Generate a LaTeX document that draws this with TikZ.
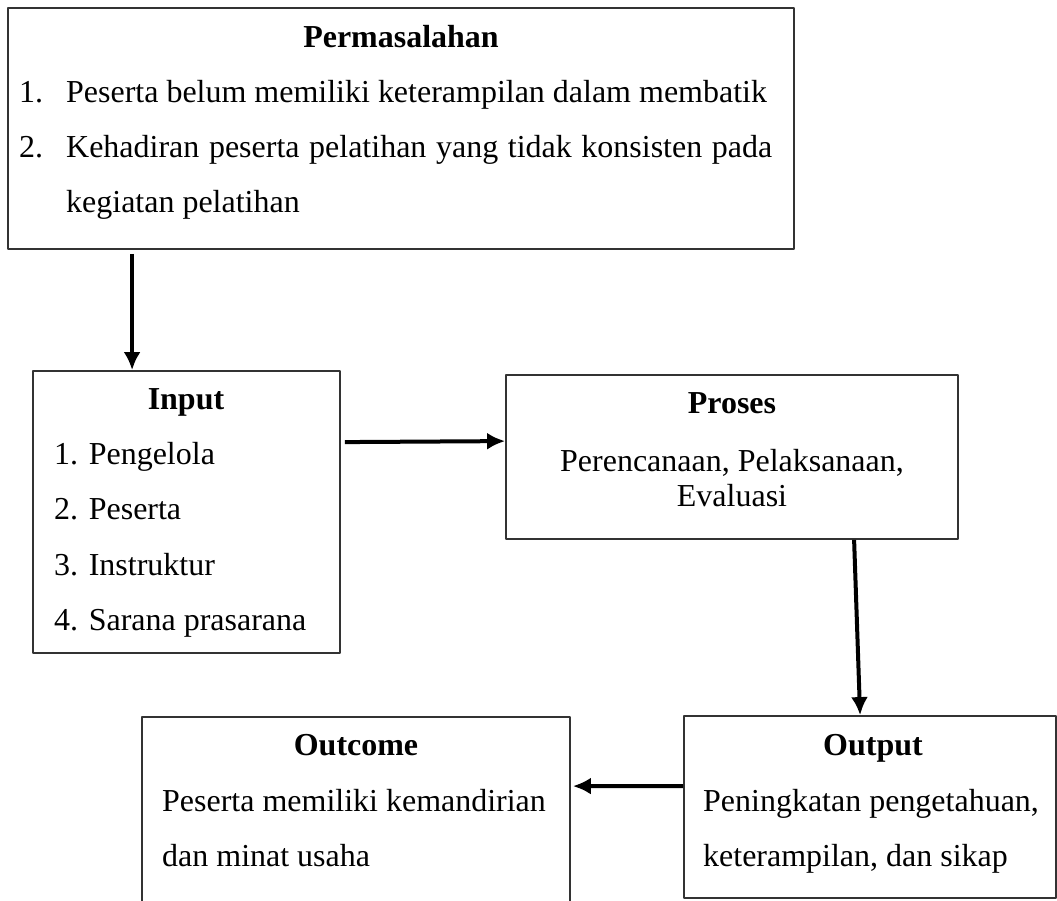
\documentclass[tikz,border=0pt]{standalone}
\usepackage{fontspec}
\setmainfont{Liberation Serif}
\usetikzlibrary{arrows.meta,calc}

\begin{document}
\begin{tikzpicture}[>={Latex[length=18bp,width=17bp]},line join=bevel,
  box/.style={draw=black!80,line width=1.8bp,inner sep=0pt},
  txt/.style={inner sep=0pt,font=\fontsize{32.1}{38}\selectfont},
  ttl/.style={inner sep=0pt,font=\fontsize{32.1}{38}\selectfont\bfseries},
  link/.style={black,line width=4bp,->},
]
\useasboundingbox (0bp,0bp) rectangle (1057bp,901bp);
%%
\node (node_perm) at (401bp,772.5bp) [box,minimum width=786bp,minimum height=241bp] {};
  \node (node_input) at (186.5bp,389bp) [box,minimum width=307bp,minimum height=282bp] {};
  \node (node_proses) at (732bp,444bp) [box,minimum width=452bp,minimum height=164bp] {};
  \node (node_output) at (870bp,94bp) [box,minimum width=372bp,minimum height=182bp] {};
  \node (node_outcome) at (356bp,72bp) [box,minimum width=428bp,minimum height=224bp] {};
%
\node (perm_title) at (401bp,853bp) [ttl,anchor=base] {Permasalahan};
  \node (perm_n1) at (19bp,798bp) [txt,anchor=base west] {1.};
  \node (perm_l1) at (66bp,798bp) [txt,anchor=base west] {Peserta belum memiliki keterampilan dalam membatik};
  \node (perm_n2) at (19bp,743bp) [txt,anchor=base west] {2.};
  \node (perm_l2) at (66bp,743bp) [txt,anchor=base west] {\makebox[706bp][s]{Kehadiran peserta pelatihan yang tidak konsisten pada}};
  \node (perm_l3) at (66bp,688bp) [txt,anchor=base west] {kegiatan pelatihan};
%
\node (input_title) at (186bp,491bp) [ttl,anchor=base] {Input};
  \node (input_l1) at (54bp,436bp) [txt,anchor=base west] {1. Pengelola};
  \node (input_l2) at (54bp,381bp) [txt,anchor=base west] {2. Peserta};
  \node (input_l3) at (54bp,325bp) [txt,anchor=base west] {3. Instruktur};
  \node (input_l4) at (54bp,270bp) [txt,anchor=base west] {4. Sarana prasarana};
%
\node (proses_title) at (732bp,487bp) [ttl,anchor=base] {Proses};
  \node (proses_l1) at (732bp,429bp) [txt,anchor=base] {Perencanaan, Pelaksanaan,};
  \node (proses_l2) at (732bp,394bp) [txt,anchor=base] {Evaluasi};
%
\node (output_title) at (873bp,145bp) [ttl,anchor=base] {Output};
  \node (output_l1) at (703bp,89bp) [txt,anchor=base west] {Peningkatan pengetahuan,};
  \node (output_l2) at (703bp,35bp) [txt,anchor=base west] {keterampilan, dan sikap};
%
\node (outcome_title) at (356bp,145bp) [ttl,anchor=base] {Outcome};
  \node (outcome_l1) at (162bp,89bp) [txt,anchor=base west] {Peserta memiliki kemandirian};
  \node (outcome_l2) at (162bp,35bp) [txt,anchor=base west] {dan minat usaha};
%
\draw [link] ($(node_perm.south west)+(125bp,-4bp)$) -- ($(node_input.north west)+(100bp,0bp)$);
  \draw [link] ($(node_input.north east)+(4bp,-72bp)$) -- ($(node_proses.north west)+(0bp,-67bp)$);
  \draw [link] ($(node_proses.south west)+(349bp,0bp)$) -- ($(node_output.north west)+(177bp,0bp)$);
  \draw [link] ($(node_output.north west)+(0bp,-71bp)$) -- ($(node_outcome.north east)+(2bp,-70bp)$);
%
\end{tikzpicture}
\end{document}
